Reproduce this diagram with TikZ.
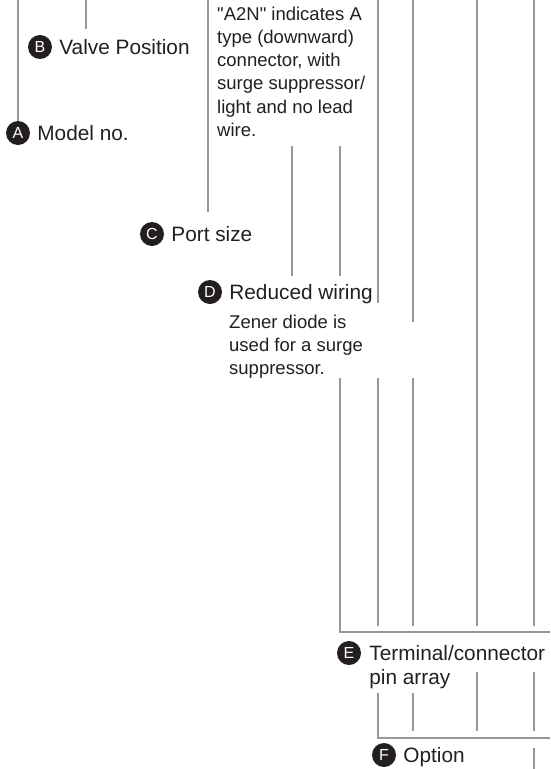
\documentclass[tikz,border=0pt]{standalone}
\usepackage{fontspec}
\setmainfont{Liberation Sans}
\usetikzlibrary{positioning}

\definecolor{leader}{RGB}{150,150,155}
\definecolor{ink}{RGB}{35,31,32}

\tikzset{
    lead/.style={draw=leader, line width=2.6pt},
    badge/.style={circle, fill=ink, text=white, inner sep=0pt, minimum size=24pt,
        font=\fontsize{16}{16}\selectfont},
    label/.style={anchor=west, inner sep=0pt, text=ink, text height=15pt, text depth=0pt,
        font=\fontsize{20.8}{24}\selectfont},
    note/.style={anchor=base west, inner sep=0pt, text=ink, align=left,
        font=\fontsize{18.5}{23.3}\selectfont},
}

\begin{document}
\begin{tikzpicture}[x=1pt, y=-1pt]
    \useasboundingbox (0,0) rectangle (550,769);

    % Badges and their labels
    \node[badge] (A) at (18,133) {A};
    \node[label, right=7pt of A] (modelno) {Model no.};

    \node[badge] (B) at (40,47) {B};
    \node[label, right=7pt of B] (valvepos) {Valve Position};

    \node[badge] (C) at (152,234) {C};
    \node[label, right=7pt of C] (portsize) {Port size};

    \node[badge] (D) at (210,292) {D};
    \node[label, right=7pt of D] (wiring) {Reduced wiring};

    \node[badge] (E) at (349,653) {E};
    \node[label, right=8pt of E] (pinarray) {Terminal/connector};
    \node[label, anchor=base west] (pinarray2) at ([yshift=-24pt]pinarray.base west) {pin array};

    \node[badge] (F) at (384,755) {F};
    \node[label, right=7pt of F] (option) {Option};

    % Notes (base = last line)
    \node[note] (a2nnote) at (217,136.5) {\textquotedbl A2N\textquotedbl{} indicates A\\type (downward)\\connector, with\\surge suppressor/\\light and no lead\\wire.};
    \node[note] (zenernote) at (229,374.6) {Zener diode is\\used for a surge\\suppressor.};

    % Model no.
    \draw[lead] (18,0) -- (A.north);
    % Valve position
    \draw[lead] (86,0) -- (86,29);
    % Port size
    \draw[lead] (208,0) -- (208,212);

    % Above reduced wiring
    \draw[lead] (292,146) -- (292,276);
    \draw[lead] (340,146) -- (340,276);
    \draw[lead] (378,0) -- (378,303);
    \draw[lead] (413,0) -- (413,322);
    \draw[lead] (477,0) -- (477,626);
    \draw[lead] (534,0) -- (534,626);

    % Terminal/connector bracket
    \draw[lead] (340,378) -- (340,632) -- (550,632);
    \draw[lead] (378,378) -- (378,626);
    \draw[lead] (413,378) -- (413,626);

    % Option bracket
    \draw[lead] (477,672) -- (477,731);
    \draw[lead] (534,672) -- (534,731);
    \draw[lead] (378,693) -- (378,738) -- (550,738);
    \draw[lead] (413,693) -- (413,731);
    \draw[lead] (534,748) -- (534,769);
\end{tikzpicture}
\end{document}
